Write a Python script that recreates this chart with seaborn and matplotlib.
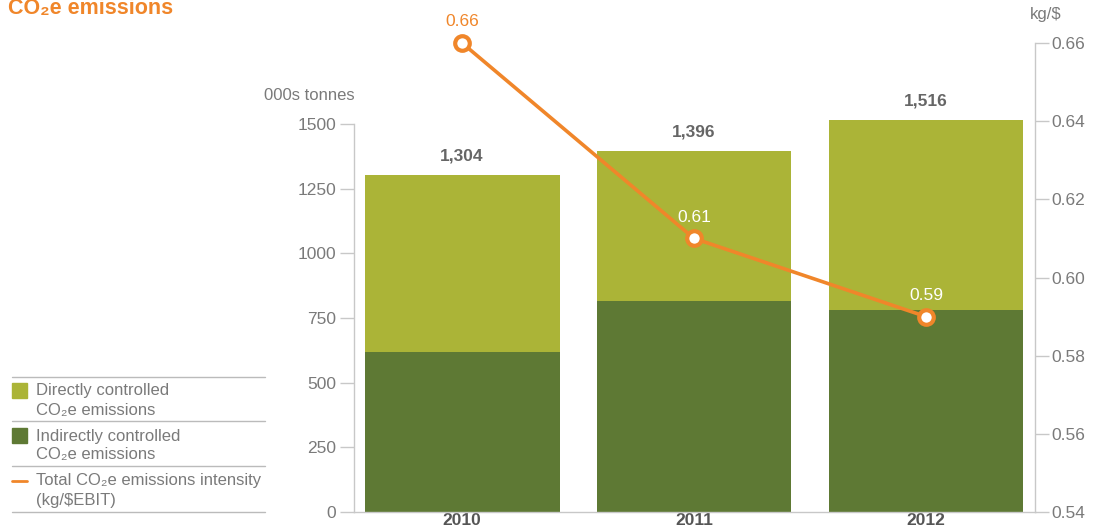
import matplotlib
matplotlib.use("Agg")
import matplotlib.pyplot as plt
import seaborn as sns
import pandas as pd
from matplotlib.lines import Line2D
from matplotlib.patches import Rectangle

years = ["2010", "2011", "2012"]
total_emissions = [1304, 1396, 1516]
indirect_emissions = [618, 816, 781]
intensity = [0.66, 0.61, 0.59]
total_labels = ["1,304", "1,396", "1,516"]
intensity_labels = ["0.66", "0.61", "0.59"]
left_ticks = [0, 250, 500, 750, 1000, 1250, 1500]
right_ticks = [0.54, 0.56, 0.58, 0.60, 0.62, 0.64, 0.66]

LIGHT = "#abb437"
DARK = "#5e7934"
ORANGE = "#f0862a"
GRAY = "#7a7a7a"
SPINE = "#c8c8c8"

sns.set_style("white")
plt.rcParams["font.family"] = ["Liberation Sans", "DejaVu Sans"]

W, H = 1099, 532
fig = plt.figure(figsize=(W / 100, H / 100), dpi=100)

def fx(px):
    return px / W

def fy(py):
    return 1 - py / H

ax_left, ax_right, ax_top, ax_bot = 354, 1035, 43, 512
ax = fig.add_axes([fx(ax_left), fy(ax_bot), fx(ax_right - ax_left), (ax_bot - ax_top) / H])

df = pd.DataFrame({"year": years, "total": total_emissions, "indirect": indirect_emissions})
sns.barplot(data=df, x="year", y="total", color=LIGHT, width=0.84, saturation=1, ax=ax, linewidth=0)
sns.barplot(data=df, x="year", y="indirect", color=DARK, width=0.84, saturation=1, ax=ax, linewidth=0)

ymax_left = 1500 * (ax_bot - ax_top) / (ax_bot - 124)
ax.set_ylim(0, ymax_left)
ax.set_xlim(-0.466, 2.47)
ax.set_yticks(left_ticks)
ax.set_yticklabels([str(t) for t in left_ticks])
ax.set_xlabel("")
ax.set_ylabel("")
for s in ["top", "right"]:
    ax.spines[s].set_visible(False)
ax.spines["left"].set_bounds(0, 1500)
ax.spines["left"].set_color(SPINE)
ax.spines["bottom"].set_color(SPINE)
ax.spines["left"].set_linewidth(1)
ax.spines["bottom"].set_linewidth(1)
ax.tick_params(axis="y", length=10, width=1, color=SPINE, labelcolor=GRAY, labelsize=12.5, pad=3, direction="out", left=True)
ax.tick_params(axis="x", length=0, labelsize=12.5, labelcolor="#555555", pad=1)
for lab in ax.get_xticklabels():
    lab.set_fontweight("bold")

for i, (t, lab) in enumerate(zip(total_emissions, total_labels)):
    ax.annotate(lab, (i, t), xytext=(0, 8), textcoords="offset points", ha="center", va="bottom",
                fontsize=12.5, fontweight="bold", color="#666666")

ax2 = ax.twinx()
ax2.set_ylim(0.54, 0.66)
ax2.set_xlim(-0.466, 2.47)
sns.lineplot(x=[0, 1, 2], y=intensity, ax=ax2, color=ORANGE, linewidth=2.6, marker="o",
             markersize=10.5, markerfacecolor="white", markeredgecolor=ORANGE, markeredgewidth=3,
             clip_on=False, zorder=5)
for s in ["top", "left", "bottom"]:
    ax2.spines[s].set_visible(False)
ax2.spines["right"].set_color(SPINE)
ax2.spines["right"].set_linewidth(1)
ax2.set_yticks(right_ticks)
ax2.set_yticklabels([f"{t:.2f}" for t in right_ticks])
ax2.tick_params(axis="y", length=10, width=1, color=SPINE, labelcolor=GRAY, labelsize=12.5, pad=2, right=True)
ax2.set_ylabel("")
ax2.grid(False)
ax.grid(False)

label_colors = [ORANGE, "white", "white"]
for i, (v, lab) in enumerate(zip(intensity, intensity_labels)):
    ax2.annotate(lab, (i, v), xytext=(0, 10), textcoords="offset points", ha="center", va="bottom",
                 fontsize=12.5, fontweight="medium", color=label_colors[i], zorder=6)

fig.text(fx(355), fy(96), "000s tonnes", ha="right", va="center", fontsize=12, color=GRAY)
fig.text(fx(1030), fy(15), "kg/$", ha="left", va="center", fontsize=12, color=GRAY)

fig.text(fx(8), fy(14), "CO₂e emissions", ha="left", va="baseline", fontsize=15.5, fontweight="bold", color=ORANGE)

# legend
for yy in [377, 421, 466, 512]:
    fig.add_artist(Line2D([fx(12), fx(265)], [fy(yy), fy(yy)], color="#bbbbbb", linewidth=1))
fig.add_artist(Rectangle((fx(12), fy(398)), fx(15), 15 / H, color=LIGHT, transform=fig.transFigure))
fig.add_artist(Rectangle((fx(12), fy(443)), fx(15), 15 / H, color=DARK, transform=fig.transFigure))
fig.add_artist(Line2D([fx(12), fx(27)], [fy(481), fy(481)], color=ORANGE, linewidth=2))
leg_texts = [
    ("Directly controlled", 391), ("CO₂e emissions", 410),
    ("Indirectly controlled", 436), ("CO₂e emissions", 455),
    ("Total CO₂e emissions intensity", 481), ("(kg/$EBIT)", 500),
]
for txt, yy in leg_texts:
    fig.text(fx(36), fy(yy), txt, ha="left", va="center", fontsize=12, color=GRAY)

fig.savefig("out.png", dpi=100)
